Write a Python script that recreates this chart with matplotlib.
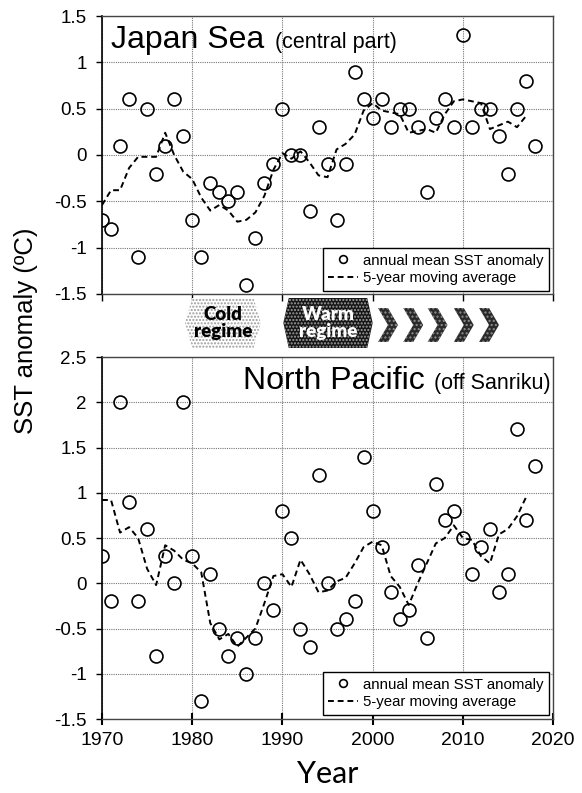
import matplotlib
matplotlib.use("Agg")
import matplotlib.pyplot as plt
from matplotlib.patches import Polygon

plt.rcParams['font.family'] = ['Liberation Sans', 'DejaVu Sans']
plt.rcParams['hatch.linewidth'] = 1.0

# ---------------- data ----------------
years = list(range(1970, 2019))
ma_years = list(range(1970, 2018))

japan_sea = [-0.7, -0.8, 0.1, 0.6, -1.1, 0.5, -0.2, 0.1, 0.6, 0.2,
             -0.7, -1.1, -0.3, -0.4, -0.5, -0.4, -1.4, -0.9, -0.3, -0.1,
             0.5, 0.0, 0.0, -0.6, 0.3, -0.1, -0.7, -0.1, 0.9, 0.6,
             0.4, 0.6, 0.3, 0.5, 0.5, 0.3, -0.4, 0.4, 0.6, 0.3,
             1.3, 0.3, 0.5, 0.5, 0.2, -0.2, 0.5, 0.8, 0.1]
japan_sea_ma = [-0.54, -0.38, -0.38, -0.14, -0.02, -0.02, -0.02, 0.24, 0.0, -0.18,
                -0.26, -0.46, -0.60, -0.54, -0.60, -0.72, -0.70, -0.62, -0.44, -0.16,
                0.02, -0.04, 0.04, -0.08, -0.22, -0.24, 0.06, 0.12, 0.22, 0.48,
                0.56, 0.48, 0.46, 0.44, 0.24, 0.26, 0.28, 0.24, 0.44, 0.58,
                0.60, 0.58, 0.56, 0.28, 0.32, 0.36, 0.30, 0.42]

north_pacific = [0.3, -0.2, 2.0, 0.9, -0.2, 0.6, -0.8, 0.3, 0.0, 2.0,
                 0.3, -1.3, 0.1, -0.5, -0.8, -0.6, -1.0, -0.6, 0.0, -0.3,
                 0.8, 0.5, -0.5, -0.7, 1.2, 0.0, -0.5, -0.4, -0.2, 1.4,
                 0.8, 0.4, -0.1, -0.4, -0.3, 0.2, -0.6, 1.1, 0.7, 0.8,
                 0.5, 0.1, 0.4, 0.6, -0.1, 0.1, 1.7, 0.7, 1.3]
north_pacific_ma = [0.92, 0.92, 0.56, 0.62, 0.50, 0.16, -0.02, 0.42, 0.36, 0.26,
                    0.22, 0.12, -0.44, -0.62, -0.56, -0.70, -0.60, -0.50, -0.22, 0.08,
                    0.10, -0.04, 0.26, 0.10, -0.10, -0.08, 0.02, 0.06, 0.22, 0.40,
                    0.46, 0.42, 0.08, -0.04, -0.24, 0.00, 0.22, 0.44, 0.50, 0.64,
                    0.50, 0.48, 0.30, 0.22, 0.54, 0.60, 0.74, 0.95]

xticks = [1970, 1980, 1990, 2000, 2010, 2020]
xtick_labels = ['1970', '1980', '1990', '2000', '2010', '2020']
yticks_top = [-1.5, -1.0, -0.5, 0.0, 0.5, 1.0, 1.5]
ytick_labels_top = ['-1.5', '-1', '-0.5', '0', '0.5', '1', '1.5']
yticks_bot = [-1.5, -1.0, -0.5, 0.0, 0.5, 1.0, 1.5, 2.0, 2.5]
ytick_labels_bot = ['-1.5', '-1', '-0.5', '0', '0.5', '1', '1.5', '2', '2.5']

label_points = 'annual mean SST anomaly'
label_ma = '5-year moving average'

# ---------------- figure ----------------
fig = plt.figure(figsize=(5.82, 7.93), dpi=100)
L, W = 0.1753, 0.775
ax1 = fig.add_axes([L, 0.6293, W, 0.3505])
ax2 = fig.add_axes([L, 0.0933, W, 0.4565])

def style(ax, yt, ytl, ylim, show_x):
    ax.set_xlim(1970, 2020)
    ax.set_ylim(*ylim)
    ax.set_xticks(xticks)
    ax.set_yticks(yt)
    ax.set_yticklabels(ytl, fontsize=13.5)
    ax.grid(True, color='#777777', linestyle=(0, (1, 1)), linewidth=0.8)
    ax.set_axisbelow(True)
    for s in ['top', 'right', 'bottom']:
        ax.spines[s].set_color('#444444')
        ax.spines[s].set_linewidth(1.0)
    ax.spines['left'].set_color('black')
    ax.spines['left'].set_linewidth(1.2)
    ax.tick_params(axis='y', direction='out', length=4, width=1, pad=7, colors='black')
    if show_x:
        ax.set_xticklabels(xtick_labels, fontsize=14)
        ax.tick_params(axis='x', direction='inout', length=8, width=1.5, pad=5)
    else:
        ax.set_xticklabels([])
        ax.tick_params(axis='x', direction='out', length=5, width=1)

def draw(ax, vals, ma):
    ax.plot(years, vals, linestyle='none', marker='o', markersize=9.3,
            markerfacecolor='none', markeredgecolor='black', markeredgewidth=1.2,
            label=label_points, zorder=3)
    ax.plot(ma_years, ma, color='black', linestyle=(0, (3, 2)), linewidth=1.4,
            label=label_ma, zorder=4)
    leg = ax.legend(loc='lower right', bbox_to_anchor=(0.99, 0.012), borderaxespad=0,
                    fancybox=False, framealpha=1, edgecolor='black', fontsize=10.8,
                    handlelength=2.0, handletextpad=0.3, borderpad=0.35,
                    labelspacing=0.25, markerscale=0.6)
    leg.get_frame().set_linewidth(1.0)
    leg.set_zorder(10)

style(ax1, yticks_top, ytick_labels_top, (-1.5, 1.5), False)
style(ax2, yticks_bot, ytick_labels_bot, (-1.5, 2.5), True)
draw(ax1, japan_sea, japan_sea_ma)
draw(ax2, north_pacific, north_pacific_ma)

# titles
t1 = ax1.text(0.02, 0.885, 'Japan Sea', transform=ax1.transAxes, fontsize=23,
              ha='left', va='baseline')
ax1.annotate('(central part)', xy=(1.0, 0.885), xycoords=(t1, ax1.transAxes),
             xytext=(8, 0), textcoords='offset points', fontsize=15.5,
             ha='left', va='baseline')
t2 = ax2.text(0.995, 0.912, '(off Sanriku)', transform=ax2.transAxes, fontsize=15.5,
              ha='right', va='baseline')
ax2.annotate('North Pacific', xy=(0.0, 0.912), xycoords=(t2, ax2.transAxes),
             xytext=(-7, 0), textcoords='offset points', fontsize=23,
             ha='right', va='baseline')

# axis labels
fig.text(0.045, 0.583, 'SST anomaly (ºC)', rotation=90, fontsize=18.5,
         ha='center', va='center')
fig.text(L + W / 2, 0.024, 'Year', fontsize=22, ha='center', va='center',
         family=['Lato', 'DejaVu Sans'])

# regime band
bax = fig.add_axes([L, 1 - 348 / 793, W, 50 / 793])
bax.set_xlim(1970, 2020)
bax.set_ylim(0, 1)
bax.axis('off')

def hexagon(x0, x1, dx):
    return [(x0, 0.5), (x0 + dx, 1.0), (x1 - dx, 1.0), (x1, 0.5), (x1 - dx, 0.0), (x0 + dx, 0.0)]

cold = Polygon(hexagon(1979.2, 1987.6, 0.8), closed=True, facecolor='white',
               edgecolor='#9a9a9a', hatch='.....', linewidth=0)
bax.add_patch(cold)
warm = Polygon(hexagon(1990.1, 2000.0, 0.6), closed=True, facecolor='#161616',
               edgecolor='#a0a0a0', hatch='.....', linewidth=0)
bax.add_patch(warm)
bax.text(1983.4, 0.5, 'Cold\nregime', ha='center', va='center', fontsize=13.5,
         fontweight='heavy', family=['Lato', 'DejaVu Sans'], linespacing=0.95, color='black')
bax.text(1995.05, 0.5, 'Warm\nregime', ha='center', va='center', fontsize=13.5,
         fontweight='heavy', family=['Lato', 'DejaVu Sans'], linespacing=0.95, color='white')

for xs in [2000.6, 2003.4, 2006.1, 2009.0, 2011.8]:
    w, t = 2.2, 1.1
    pts = [(xs, 0.80), (xs + t, 0.80), (xs + w, 0.46), (xs + t, 0.12), (xs, 0.12), (xs + w - t, 0.46)]
    bax.add_patch(Polygon(pts, closed=True, facecolor='#2a2a2a', edgecolor='#909090',
                          hatch='....', linewidth=0))

fig.savefig('out.png', dpi=100)
